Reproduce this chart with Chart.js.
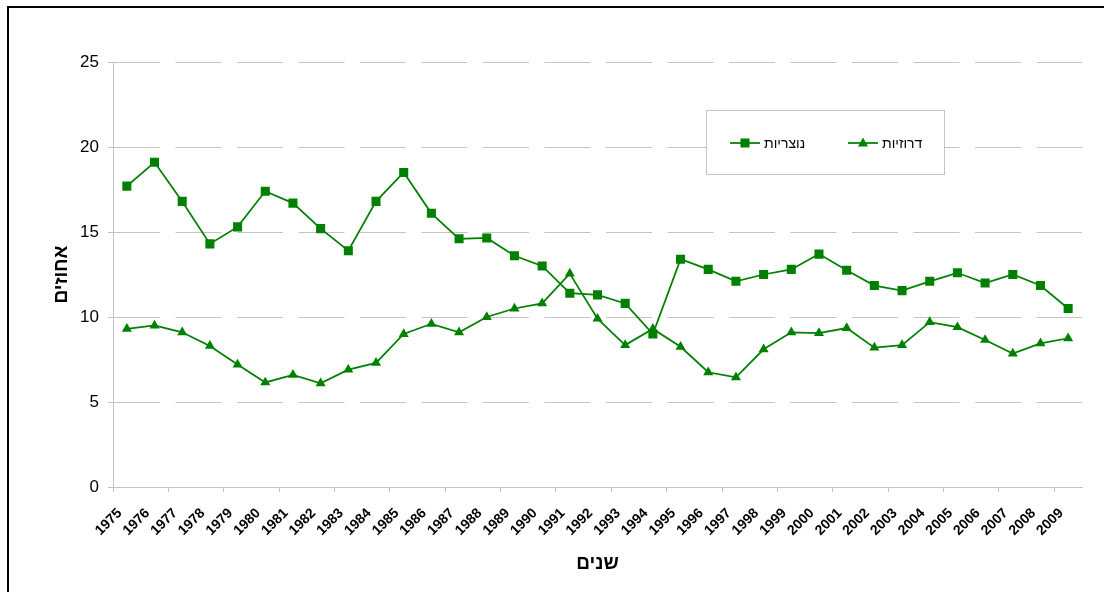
<!DOCTYPE html>
<html>
<head>
<meta charset="utf-8">
<script src="https://cdn.jsdelivr.net/npm/chart.js@4/dist/chart.umd.min.js"></script>
<style>
  html, body { margin: 0; padding: 0; background: #fff; overflow: hidden; }
  #wrap { position: relative; width: 1104px; height: 592px; }
  #frame { position: absolute; left: 7px; top: 6px; width: 1200px; height: 700px;
           border-left: 2px solid #000; border-top: 2px solid #000; pointer-events: none; }
</style>
</head>
<body>
<div id="wrap">
  <canvas id="chart" width="1104" height="592"></canvas>
  <div id="frame"></div>
</div>
<script>
// --- Data ---
const years = ['1975','1976','1977','1978','1979','1980','1981','1982','1983','1984',
  '1985','1986','1987','1988','1989','1990','1991','1992','1993','1994',
  '1995','1996','1997','1998','1999','2000','2001','2002','2003','2004',
  '2005','2006','2007','2008','2009'];

const christian = [17.7, 19.1, 16.8, 14.3, 15.3, 17.4, 16.7, 15.2, 13.9, 16.8,
  18.5, 16.1, 14.6, 14.65, 13.6, 13.0, 11.4, 11.3, 10.8, 9.0,
  13.4, 12.8, 12.1, 12.5, 12.8, 13.7, 12.75, 11.85, 11.55, 12.1,
  12.6, 12.0, 12.5, 11.85, 10.5];

const druze = [9.3, 9.5, 9.1, 8.3, 7.2, 6.15, 6.6, 6.1, 6.9, 7.3,
  9.0, 9.6, 9.1, 10.0, 10.5, 10.8, 12.55, 9.9, 8.35, 9.3,
  8.25, 6.75, 6.45, 8.1, 9.1, 9.05, 9.35, 8.2, 8.35, 9.7,
  9.4, 8.65, 7.85, 8.45, 8.75];

const yTicks = [0, 5, 10, 15, 20, 25];
const seriesNames = ['נוצריות', 'דרוזיות'];

const GREEN = '#008000';
const FONT = "'Liberation Sans', Arial, sans-serif";

// --- Legend box, drawn inside the plot like the original ---
const boxLegend = {
  id: 'boxLegend',
  afterDraw(chart) {
    const ctx = chart.ctx;
    ctx.save();
    ctx.strokeStyle = '#c4c4c4';
    ctx.lineWidth = 1;
    ctx.fillStyle = '#fff';
    ctx.fillRect(706.5, 110.5, 238, 64);
    ctx.strokeRect(706.5, 110.5, 238, 64);

    const items = [
      { x: 730, text: seriesNames[0], ds: chart.data.datasets[0] },
      { x: 848, text: seriesNames[1], ds: chart.data.datasets[1] }
    ];
    const y = 143;
    items.forEach(it => {
      ctx.strokeStyle = GREEN;
      ctx.lineWidth = 1.75;
      ctx.beginPath();
      ctx.moveTo(it.x, y);
      ctx.lineTo(it.x + 30, y);
      ctx.stroke();
      ctx.fillStyle = GREEN;
      const cx = it.x + 15;
      if (it.ds.pointStyle === 'rect') {
        ctx.fillRect(cx - 4.5, y - 4.5, 9, 9);
      } else {
        ctx.beginPath();
        ctx.moveTo(cx, y - 5.5);
        ctx.lineTo(cx + 5, y + 3.5);
        ctx.lineTo(cx - 5, y + 3.5);
        ctx.closePath();
        ctx.fill();
      }
      ctx.fillStyle = '#000';
      ctx.font = '14px ' + FONT;
      ctx.textAlign = 'left';
      ctx.textBaseline = 'middle';
      ctx.fillText(it.text, it.x + 34, y + 1);
    });
    ctx.restore();
  }
};

new Chart(document.getElementById('chart'), {
  type: 'line',
  data: {
    labels: years,
    datasets: [
      {
        label: seriesNames[0],
        data: christian,
        borderColor: GREEN,
        backgroundColor: GREEN,
        borderWidth: 1.75,
        pointStyle: 'rect',
        pointRadius: 6.4,
        pointBorderWidth: 0,
        tension: 0
      },
      {
        label: seriesNames[1],
        data: druze,
        borderColor: GREEN,
        backgroundColor: GREEN,
        borderWidth: 1.75,
        pointStyle: 'triangle',
        pointRadius: 5.8,
        pointBorderWidth: 0,
        tension: 0
      }
    ]
  },
  options: {
    responsive: false,
    animation: false,
    layout: { padding: { top: 62, right: 22, left: 0, bottom: 0 } },
    plugins: {
      legend: { display: false },
      tooltip: { enabled: false }
    },
    scales: {
      x: {
        offset: true,
        afterFit: s => { s.height = 105; },
        grid: {
          offset: true,
          drawOnChartArea: false,
          tickLength: 5,
          color: c => (c.index % 2 === 0 ? '#c4c4c4' : 'rgba(0,0,0,0)')
        },
        border: { color: '#c4c4c4', width: 1 },
        ticks: {
          autoSkip: false,
          maxRotation: 45,
          minRotation: 45,
          labelOffset: -7,
          padding: 13,
          color: '#000',
          font: { family: FONT, size: 14, weight: 'bold' }
        },
        title: {
          display: true,
          text: 'שנים',
          color: '#000',
          font: { family: FONT, size: 19, weight: 'bold' },
          padding: { top: 0, bottom: 17 }
        }
      },
      y: {
        min: 0,
        max: 25,
        afterFit: s => { s.width = 113; },
        afterBuildTicks: s => { s.ticks = yTicks.map(v => ({ value: v })); },
        grid: {
          color: '#c4c4c4',
          lineWidth: 1,
          tickLength: 5,
          tickBorderDash: []
        },
        border: { color: '#c4c4c4', width: 1, dash: [46, 15.5] },
        ticks: {
          padding: 9,
          color: '#000',
          font: { family: FONT, size: 17 }
        },
        title: {
          display: true,
          text: 'אחוזים',
          color: '#000',
          font: { family: FONT, size: 19, weight: 'bold' },
          padding: { top: 50, bottom: 0 }
        }
      }
    }
  },
  plugins: [boxLegend]
});
</script>
</body>
</html>
